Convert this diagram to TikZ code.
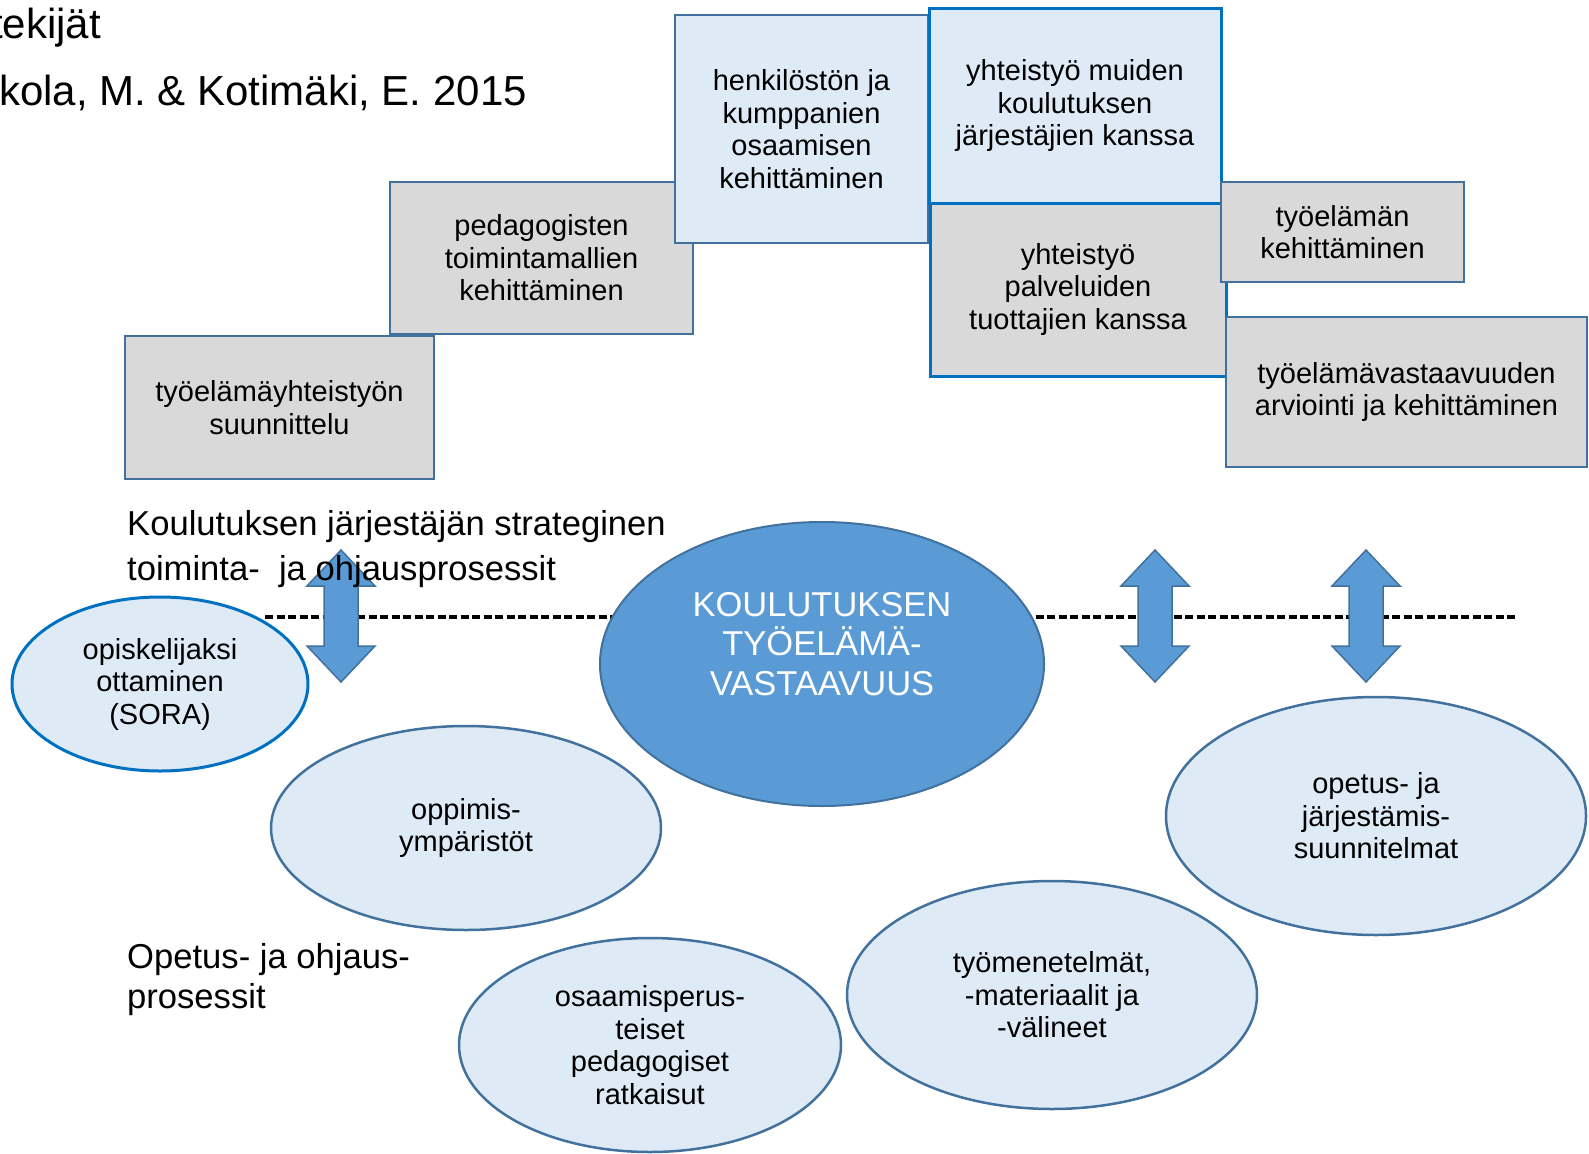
\documentclass[tikz,border=0pt]{standalone}
\usepackage{fontspec}
\setmainfont{Liberation Sans}
\usepackage{tikz}
\usetikzlibrary{shapes.geometric}

\definecolor{boxgrey}{HTML}{D9D9D9}
\definecolor{paleblue}{HTML}{DEEBF7}
\definecolor{edgeblue}{HTML}{41719C}
\definecolor{brightblue}{HTML}{0070C0}
\definecolor{coreblue}{HTML}{5B9BD5}

\newcommand{\boxfont}{\fontsize{29}{32.5}\selectfont}
\newcommand{\headfont}{\fontsize{34.6}{45}\selectfont}

\tikzset{
  greybox/.style={draw=edgeblue, line width=2.8pt, fill=boxgrey, align=center, inner sep=0pt, font=\boxfont},
  bluebox/.style={greybox, fill=paleblue},
  softoval/.style={ellipse, draw=edgeblue, line width=2.5pt, fill=paleblue, align=center, inner sep=0pt, font=\boxfont},
  coreoval/.style={ellipse, draw=edgeblue, line width=2pt, fill=coreblue, inner sep=0pt},
  blockarrow/.style={draw=edgeblue, line width=1.5pt, fill=coreblue},
  headtext/.style={anchor=west, align=left, inner sep=0pt, font=\headfont}
}

\begin{document}
\begin{tikzpicture}[x=1pt, y=-1pt]
\useasboundingbox (0,0) rectangle (1589,1153);

\node[anchor=base east, inner sep=0pt, font=\fontsize{42}{48}\selectfont] (authorsHead) at (101,39) {tekijät};
\node[anchor=base west, inner sep=0pt, font=\fontsize{42}{48}\selectfont] (authors) at (-1,106) {kola, M. \& Kotimäki, E. 2015};

% strategic boxes
\node[greybox, minimum width=309pt, minimum height=143pt] (plan) at (279.5,407.5) {työelämäyhteistyön\\suunnittelu};
\node[greybox, minimum width=303pt, minimum height=152pt] (pedag) at (541.5,258) {pedagogisten\\toimintamallien\\kehittäminen};
\node[bluebox, minimum width=253pt, minimum height=228pt] (staff) at (801.5,129) {henkilöstön ja\\kumppanien\\osaamisen\\kehittäminen};
\node[greybox, draw=brightblue, line width=3pt, minimum width=296pt, minimum height=175pt] (services) at (1078,289) {yhteistyö\\palveluiden\\tuottajien kanssa};
\node[bluebox, draw=brightblue, line width=3pt, minimum width=292pt, minimum height=194pt] (providers) at (1075,106) {yhteistyö muiden\\koulutuksen\\järjestäjien kanssa};
\node[greybox, minimum width=243pt, minimum height=100pt] (worklife) at (1342.5,232) {työelämän\\kehittäminen};
\node[greybox, minimum width=361pt, minimum height=150pt] (evaluation) at (1406.5,392) {työelämävastaavuuden\\arviointi ja kehittäminen};

% boundary line
\coordinate (dashL) at (265,617);
\coordinate (dashR) at (1515,617);
\draw[black, line width=3.2pt, dash pattern=on 8pt off 3.5pt] (dashL) -- (dashR);

% processes
\node[softoval, draw=brightblue, line width=3pt, minimum width=296pt, minimum height=174pt] (sora) at (160,684) {opiskelijaksi\\ottaminen\\(SORA)};
\node[softoval, minimum width=390pt, minimum height=204pt] (envs) at (466,828) {oppimis-\\ympäristöt};
\node[coreoval, minimum width=444pt, minimum height=284pt] (core) at (822,664) {};
\node[align=center, text=white, inner sep=0pt, font=\fontsize{34.5}{39.5}\selectfont] (coretext) at ([yshift=20pt]core.center) {KOULUTUKSEN\\TYÖELÄMÄ-\\VASTAAVUUS};
\node[softoval, minimum width=420pt, minimum height=238pt] (plans) at (1376,816) {opetus- ja\\järjestämis-\\suunnitelmat};
\node[softoval, minimum width=410pt, minimum height=228pt] (methods) at (1052,995) {työmenetelmät,\\-materiaalit ja\\-välineet};
\node[softoval, minimum width=382pt, minimum height=214pt] (solutions) at (650,1045) {osaamisperus-\\teiset\\pedagogiset\\ratkaisut};

\foreach \ax in {341,1155,1366} {
  \filldraw[blockarrow] (\ax,550) -- ++(34,36) -- ++(-17,0) -- ++(0,60) -- ++(17,0) -- (\ax,682)
    -- ++(-34,-36) -- ++(17,0) -- ++(0,-60) -- ++(-17,0) -- cycle;
}

\node[headtext] (strategy) at (127,549.5) {Koulutuksen järjestäjän strateginen\\toiminta-\ \ ja ohjausprosessit};
\node[headtext, font=\fontsize{34.6}{39.5}\selectfont] (teaching) at (127,979.5) {Opetus- ja ohjaus-\\prosessit};
\end{tikzpicture}
\end{document}
